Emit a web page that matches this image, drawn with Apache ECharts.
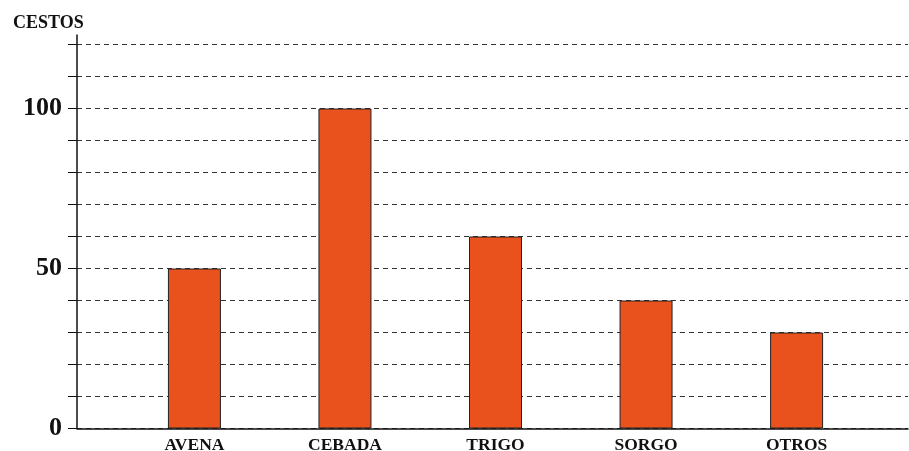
<!DOCTYPE html>
<html>
<head>
<meta charset="utf-8">
<script src="https://cdn.jsdelivr.net/npm/echarts@6/dist/echarts.min.js"></script>
<style>
  html, body { margin: 0; padding: 0; background: #fff; }
  #chart { width: 909px; height: 451px; }
</style>
</head>
<body>
<div id="chart"></div>
<script>
// Grain harvest in baskets per crop
const categories = ['AVENA', 'CEBADA', 'TRIGO', 'SORGO', 'OTROS'];
const cestos = [50, 100, 60, 40, 30];
const yLabels = [0, 50, 100];
const yTitle = 'CESTOS';

const FONT = '"Liberation Serif", "DejaVu Serif", serif';
const INK = '#111';

const positions = categories.map((c, i) => i + 1);

const chart = echarts.init(document.getElementById('chart'));

chart.setOption({
  animation: false,
  backgroundColor: '#fff',
  title: {
    text: yTitle,
    left: 8,
    top: 9,
    textStyle: { fontFamily: FONT, fontWeight: 'bold', fontSize: 18, color: INK }
  },
  grid: [
    // taller frame: carries only the vertical axis line
    { left: 77, right: 1, top: 35, bottom: 22.5, outerBoundsMode: 'none', containLabel: false },
    // plotting frame
    { left: 77, right: 1, top: 44.5, bottom: 22.5, outerBoundsMode: 'none', containLabel: false }
  ],
  xAxis: [
    { gridIndex: 0, type: 'value', min: 0, max: 1, show: false },
    {
      gridIndex: 1,
      type: 'value',
      min: 0.22,
      max: 5.74,
      axisLine: { show: true, lineStyle: { color: INK, width: 1.5 } },
      axisTick: { show: false },
      splitLine: { show: false },
      axisLabel: {
        customValues: positions,
        margin: 8,
        fontFamily: FONT,
        fontWeight: 'bold',
        fontSize: 17.5,
        color: INK,
        formatter: v => categories[Math.round(v) - 1] || ''
      }
    }
  ],
  yAxis: [
    {
      gridIndex: 0,
      type: 'value',
      min: 0,
      max: 123,
      axisLine: { show: true, lineStyle: { color: INK, width: 1.5 } },
      axisTick: { show: false },
      axisLabel: { show: false },
      splitLine: { show: false }
    },
    {
      gridIndex: 1,
      type: 'value',
      min: 0,
      max: 120,
      interval: 10,
      axisLine: { show: false },
      axisTick: { show: true, inside: false, length: 9, lineStyle: { color: INK, width: 1 } },
      splitLine: { show: true, lineStyle: { color: '#333', width: 1, type: [5, 4] } },
      axisLabel: {
        margin: 15,
        padding: [5, 0, 0, 0],
        fontFamily: FONT,
        fontWeight: 'bold',
        fontSize: 26,
        color: INK,
        formatter: v => yLabels.includes(v) ? String(v) : ''
      }
    }
  ],
  series: [
    {
      type: 'bar',
      xAxisIndex: 1,
      yAxisIndex: 1,
      barWidth: 53,
      data: cestos.map((v, i) => [positions[i], v]),
      itemStyle: { color: '#E9511D', borderColor: '#222', borderWidth: 1 }
    }
  ]
});
</script>
</body>
</html>
